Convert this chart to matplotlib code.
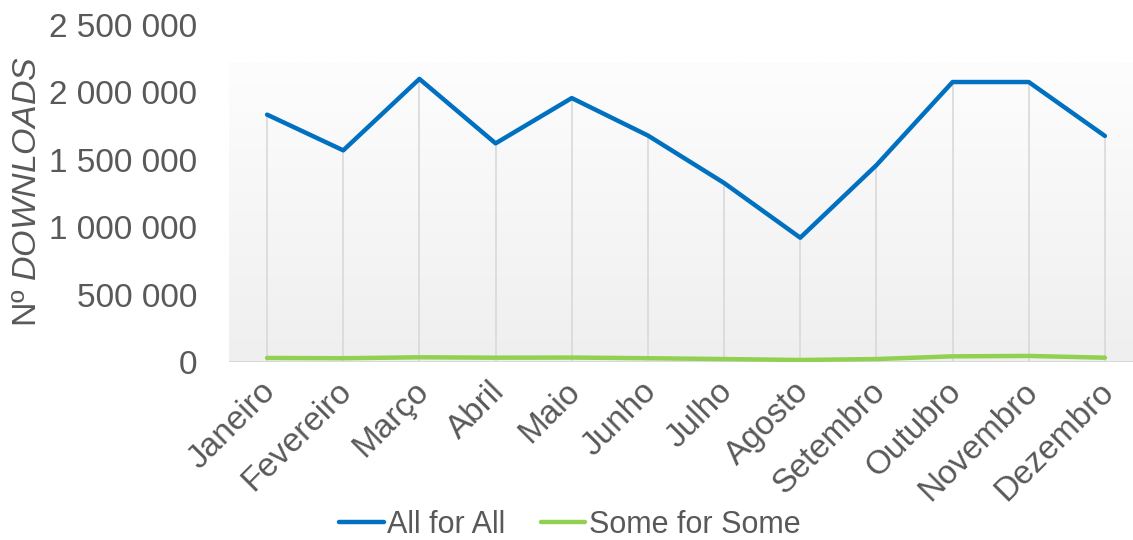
import numpy as np
import matplotlib.pyplot as plt
import matplotlib.transforms as mtransforms
from matplotlib.ticker import FuncFormatter

plt.rcParams['font.family'] = ['Liberation Sans', 'DejaVu Sans']
plt.rcParams['mathtext.fontset'] = 'custom'
plt.rcParams['mathtext.rm'] = 'Liberation Sans'
plt.rcParams['mathtext.it'] = 'Liberation Sans:italic'

meses = ['Janeiro', 'Fevereiro', 'Março', 'Abril', 'Maio', 'Junho',
         'Julho', 'Agosto', 'Setembro', 'Outubro', 'Novembro', 'Dezembro']
all_for_all = [1835000, 1570000, 2100000, 1622000, 1958000, 1680000,
               1328000, 922000, 1460000, 2077000, 2077000, 1677000]
some_for_some = [30000, 28000, 35000, 32000, 33000, 28000,
                 22000, 15000, 22000, 42000, 45000, 32000]

grey = '#595959'
W, H = 1133, 540
fig = plt.figure(figsize=(W / 100, H / 100), dpi=100)
ax = fig.add_axes([229 / W, 1 - 362 / H, (1143 - 229) / W, (362 - 25) / H])

x = np.arange(len(meses))
ax.set_xlim(-0.5, len(meses) - 0.5)
ax.set_ylim(0, 2500000)

# plot-area fill: light vertical gradient, white at top to pale grey at bottom
top = 2220000
grad = np.linspace(0, 1, 256).reshape(-1, 1)
ax.imshow(grad, extent=[-0.5, len(meses) - 0.5, 0, top], aspect='auto',
          cmap=plt.matplotlib.colors.LinearSegmentedColormap.from_list(
              'bg', ['#efefef', '#fdfdfd']), origin='lower', zorder=0)

# drop lines from the main series down to the axis
ax.vlines(x, 0, all_for_all, color='#d9d9d9', lw=1.2, zorder=1)
ax.axhline(0, color='#d9d9d9', lw=1.5, zorder=1)

ax.plot(x, all_for_all, color='#0070c0', lw=3.2, label='All for All',
        solid_joinstyle='round', solid_capstyle='round', zorder=3)
ax.plot(x, some_for_some, color='#92d050', lw=3.2, label='Some for Some',
        solid_joinstyle='round', solid_capstyle='round', zorder=2)

for s in ax.spines.values():
    s.set_visible(False)

ax.set_yticks(np.arange(0, 2500001, 500000))
ax.yaxis.set_major_formatter(FuncFormatter(lambda v, p: f'{int(v):,}'.replace(',', ' ')))
ax.set_xticks(x)
ax.set_xticklabels(meses, rotation=45, ha='right', rotation_mode='anchor')
ax.tick_params(axis='both', length=0, colors=grey, labelsize=24)
ax.tick_params(axis='y', pad=23)
ax.tick_params(axis='x', pad=10)

# nudge the slanted month names a little to the left
shift = mtransforms.ScaledTranslation(-7 / 100, 0, fig.dpi_scale_trans)
for lbl in ax.get_xticklabels():
    lbl.set_transform(lbl.get_transform() + shift)

fig.text(28 / W, 1 - 192 / H, r'Nº $\mathit{DOWNLOADS}$', rotation=90,
         ha='center', va='center', color=grey, fontsize=24.5)

leg = fig.legend(loc='center', bbox_to_anchor=(570 / W, 1 - 525 / H), ncol=2,
                 frameon=False, fontsize=22, handlelength=1.45, handletextpad=0.13,
                 columnspacing=1.15, labelcolor=grey)

fig.savefig('out.png', dpi=100)
